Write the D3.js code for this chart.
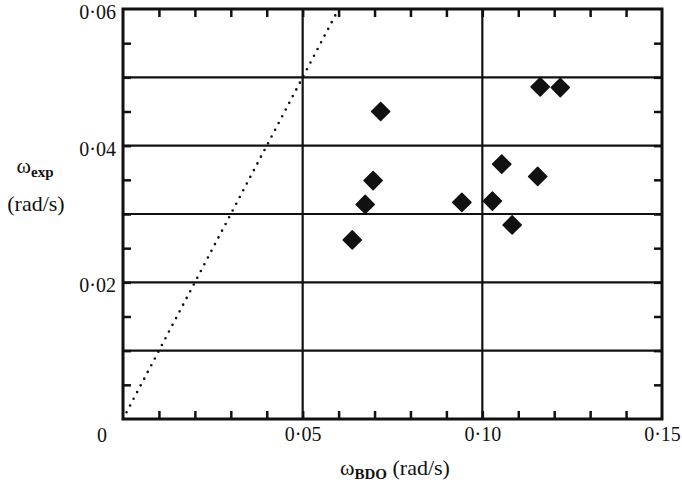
<!DOCTYPE html>
<html>
<head>
<meta charset="utf-8">
<script src="https://cdn.jsdelivr.net/npm/d3@7"></script>
<style>
  body { margin: 0; background: #fff; }
  svg text { font-family: "Liberation Serif", "DejaVu Serif", serif; fill: #111; }
</style>
</head>
<body>
<svg></svg>
<script>
// Data
const omegaBDO = [0.0638, 0.0674, 0.0696, 0.0717, 0.0943, 0.1028, 0.1054, 0.1083, 0.1154, 0.1161, 0.1217];
const omegaExp = [0.0262, 0.0314, 0.0349, 0.0450, 0.0317, 0.0319, 0.0373, 0.0284, 0.0355, 0.0486, 0.0485];
const equalityLine = [0, 0.06];   // omega_exp = omega_BDO
const xTickLabels = [0.05, 0.10, 0.15];
const yTickLabels = [0.02, 0.04, 0.06];
const xGrid = [0.05, 0.10];
const yGrid = [0.01, 0.02, 0.03, 0.04, 0.05];

// Constants
const width = 682;
const height = 484;
const plotLeft = 123, plotRight = 662, plotTop = 9, plotBottom = 419;
const ink = '#111';

const svg = d3.select('svg')
    .attr('width', width)
    .attr('height', height);

const x = d3.scaleLinear().domain([0, 0.15]).range([plotLeft, plotRight]);
const y = d3.scaleLinear().domain([0, 0.06]).range([plotBottom, plotTop]);

const fmt = d => d === 0 ? '0' : d3.format('.2f')(d).replace('.', '\u00b7');

// minor ticks every 0.01 (x) and 0.005 (y), pointing inward
const xMinor = d3.range(1, 15).map(i => i / 100);
const yMinor = d3.range(1, 12).map(i => i * 0.005);

svg.append('g')
    .attr('transform', `translate(0, ${plotBottom})`)
    .call(d3.axisBottom(x).tickValues(xMinor).tickSize(-8).tickFormat(''))
    .call(g => g.select('.domain').remove());
svg.append('g')
    .attr('transform', `translate(0, ${plotTop})`)
    .call(d3.axisTop(x).tickValues(xMinor).tickSize(-8).tickFormat(''))
    .call(g => g.select('.domain').remove());
svg.append('g')
    .attr('transform', `translate(${plotLeft}, 0)`)
    .call(d3.axisLeft(y).tickValues(yMinor).tickSize(-8).tickFormat(''))
    .call(g => g.select('.domain').remove());
svg.append('g')
    .attr('transform', `translate(${plotRight}, 0)`)
    .call(d3.axisRight(y).tickValues(yMinor).tickSize(-8).tickFormat(''))
    .call(g => g.select('.domain').remove());

svg.selectAll('.tick line')
    .attr('stroke', ink)
    .attr('stroke-width', 2.5);

// grid
svg.append('g').selectAll('line')
    .data(xGrid).enter().append('line')
    .attr('x1', d => x(d)).attr('x2', d => x(d))
    .attr('y1', plotTop).attr('y2', plotBottom)
    .attr('stroke', ink).attr('stroke-width', 2.2);
svg.append('g').selectAll('line')
    .data(yGrid).enter().append('line')
    .attr('x1', plotLeft).attr('x2', plotRight)
    .attr('y1', d => y(d)).attr('y2', d => y(d))
    .attr('stroke', ink).attr('stroke-width', 2.2);

// frame
svg.append('rect')
    .attr('x', plotLeft).attr('y', plotTop)
    .attr('width', plotRight - plotLeft).attr('height', plotBottom - plotTop)
    .attr('fill', 'none')
    .attr('stroke', ink)
    .attr('stroke-width', 3);

// tick labels
svg.append('g')
    .attr('transform', `translate(0, ${plotBottom})`)
    .call(d3.axisBottom(x).tickValues(xTickLabels).tickSize(0).tickPadding(8).tickFormat(fmt))
    .call(g => g.select('.domain').remove())
    .selectAll('text')
    .attr('font-size', 20);
svg.append('g')
    .attr('transform', `translate(${plotLeft}, 3)`)
    .call(d3.axisLeft(y).tickValues(yTickLabels).tickSize(0).tickPadding(7).tickFormat(fmt))
    .call(g => g.select('.domain').remove())
    .selectAll('text')
    .attr('font-size', 20);
svg.append('text')
    .attr('x', plotLeft - 21).attr('y', plotBottom + 23)
    .attr('text-anchor', 'middle')
    .attr('font-size', 20)
    .text(fmt(0));

// axis titles
const xTitle = svg.append('text')
    .attr('x', 395).attr('y', 475)
    .attr('text-anchor', 'middle')
    .attr('font-size', 22);
xTitle.append('tspan').text('\u03c9');
xTitle.append('tspan').attr('dy', 4).attr('font-size', 15).attr('font-weight', 'bold').text('BDO');
xTitle.append('tspan').attr('dy', -4).text(' (rad/s)');

const yTitle = svg.append('text')
    .attr('x', 35).attr('y', 173)
    .attr('text-anchor', 'middle')
    .attr('font-size', 22);
yTitle.append('tspan').text('\u03c9');
yTitle.append('tspan').attr('dy', 4).attr('font-size', 15).attr('font-weight', 'bold').text('exp');
svg.append('text')
    .attr('x', 36).attr('y', 211)
    .attr('text-anchor', 'middle')
    .attr('font-size', 22)
    .text('(rad/s)');

// dotted equality line
svg.append('path')
    .datum(equalityLine)
    .attr('d', d3.line().x(d => x(d)).y(d => y(d)))
    .attr('fill', 'none')
    .attr('stroke', ink)
    .attr('stroke-width', 2.6)
    .attr('stroke-linecap', 'round')
    .attr('stroke-dasharray', '0 7.6');

// points
const diamond = d3.symbol().type(d3.symbolSquare).size(165);
svg.append('g').selectAll('path')
    .data(omegaBDO).enter().append('path')
    .attr('d', diamond)
    .attr('transform', (d, i) => `translate(${x(d)}, ${y(omegaExp[i])}) rotate(45)`)
    .attr('fill', ink)
    .attr('stroke', ink)
    .attr('stroke-width', 1.5)
    .attr('stroke-linejoin', 'round');
</script>
</body>
</html>
